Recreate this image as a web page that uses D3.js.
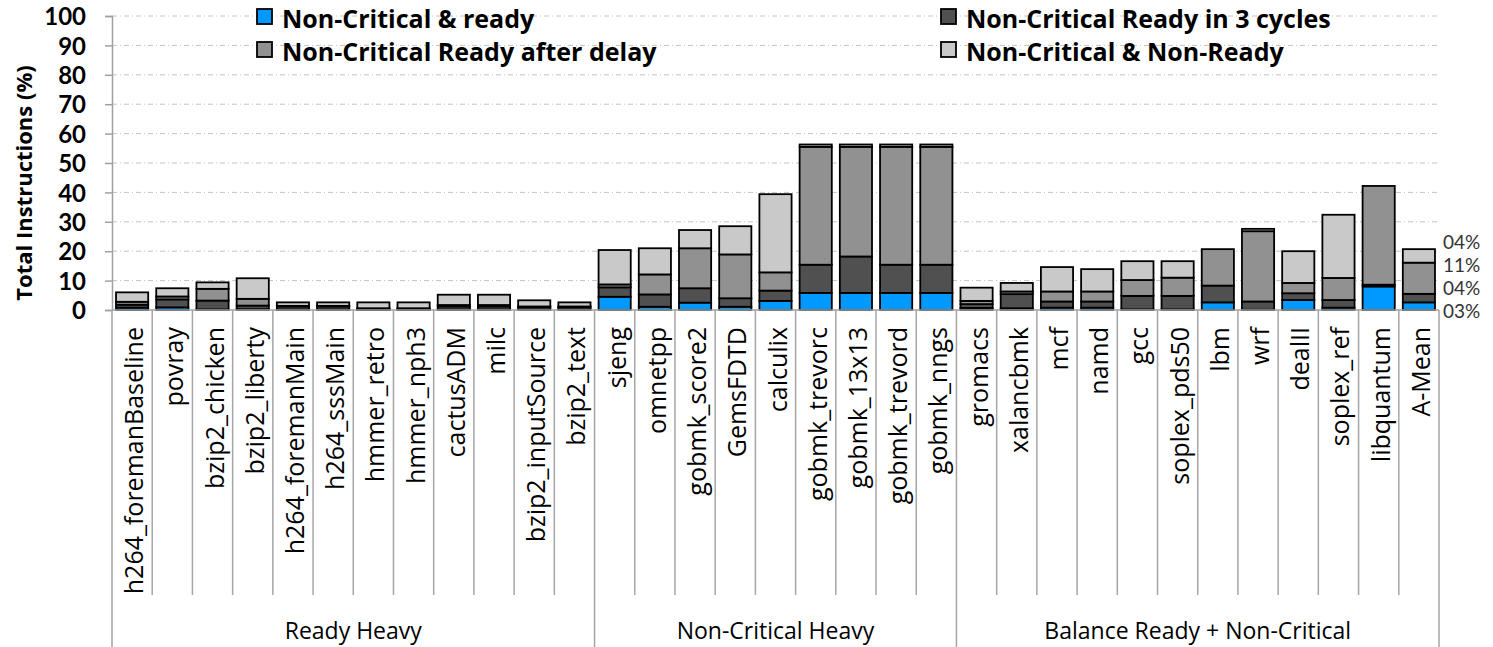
<!DOCTYPE html>
<html>
<head>
<meta charset="utf-8">
<script src="https://cdn.jsdelivr.net/npm/d3@7"></script>
<style>
  body { margin: 0; background: #fff; }
  text { font-family: "Open Sans", Lato, sans-serif; fill: #000; }
</style>
</head>
<body>
<svg id="svgContenedor" width="1493" height="647"></svg>
<script>
// datos
const categorias = ["h264_foremanBaseline", "povray", "bzip2_chicken", "bzip2_liberty", "h264_foremanMain",
  "h264_sssMain", "hmmer_retro", "hmmer_nph3", "cactusADM", "milc", "bzip2_inputSource", "bzip2_text",
  "sjeng", "omnetpp", "gobmk_score2", "GemsFDTD", "calculix", "gobmk_trevorc", "gobmk_13x13", "gobmk_trevord", "gobmk_nngs",
  "gromacs", "xalancbmk", "mcf", "namd", "gcc", "soplex_pds50", "lbm", "wrf", "dealII", "soplex_ref", "libquantum", "A-Mean"];
const grupos = ["Ready Heavy", "Non-Critical Heavy", "Balance Ready + Non-Critical"];
const tamGrupos = [12, 9, 12];

const listo = [0.8, 0.9, 0.2, 0.3, 0.2, 0.2, 0.1, 0.1, 0.2, 0.2, 0.2, 0.2,
  4.5, 1.1, 2.5, 1.1, 3.1, 5.8, 5.8, 5.8, 5.8,
  0.7, 0.6, 0.8, 0.8, 0.2, 0.2, 2.6, 0.1, 3.4, 0.8, 8.0, 2.6];
const listo3 = [1.0, 2.7, 3.0, 1.2, 1.0, 1.0, 0.3, 0.3, 1.0, 1.0, 0.8, 0.8,
  3.2, 4.2, 4.9, 2.9, 3.5, 9.6, 12.4, 9.6, 9.6,
  1.3, 4.8, 2.1, 2.1, 4.6, 4.6, 5.7, 2.8, 2.3, 2.6, 0.6, 2.9];
const listoDelay = [1.0, 1.0, 4.0, 2.3, 0.2, 0.2, 0.2, 0.2, 0.5, 0.5, 0.2, 0.2,
  1.0, 6.8, 13.6, 14.9, 6.2, 40.1, 37.3, 40.1, 40.1,
  1.1, 0.9, 3.4, 3.4, 5.4, 6.2, 12.4, 23.9, 3.5, 7.5, 33.6, 10.6];
const noListo = [3.2, 2.8, 2.2, 7.0, 1.2, 1.2, 2.0, 2.0, 3.5, 3.5, 2.1, 1.4,
  11.7, 8.9, 6.2, 9.6, 26.6, 0.8, 0.8, 0.8, 0.8,
  4.5, 2.9, 8.3, 7.6, 6.4, 5.6, 0.0, 0.8, 10.8, 21.5, 0.0, 4.6];

const nombresSeries = ["Non-Critical & ready", "Non-Critical Ready in 3 cycles",
  "Non-Critical Ready after delay", "Non-Critical & Non-Ready"];
const colores = ["#0099ff", "#505050", "#919191", "#c9c9c9"];
const ticksY = [0, 10, 20, 30, 40, 50, 60, 70, 80, 90, 100];
const etiquetasMedia = ["04%", "11%", "04%", "03%"];

const svgContenedor = d3.select("#svgContenedor");
const izq = 112, der = 1439, arriba = 16, abajo = 310;

const x = d3.scaleBand()
  .domain(categorias)
  .range([izq, der])
  .paddingInner(0.2)
  .paddingOuter(0.1);
const y = d3.scaleLinear().domain([0, 100]).range([abajo, arriba]);
const paso = x.step();

// lineas de rejilla
svgContenedor.append("g")
  .selectAll("line")
  .data(ticksY.filter(d => d > 0))
  .join("line")
  .attr("x1", izq).attr("x2", der)
  .attr("y1", d => y(d)).attr("y2", d => y(d))
  .attr("stroke", "#c4c4c4")
  .attr("stroke-width", 1)
  .attr("stroke-dasharray", "5,3,1,3");

// eje y
const ejeY = svgContenedor.append("g")
  .attr("transform", `translate(${izq},0)`)
  .call(d3.axisLeft(y).tickValues(ticksY).tickSize(7).tickPadding(19));
ejeY.select(".domain").attr("stroke", "#a0a0a0").attr("stroke-width", 1.5);
ejeY.selectAll(".tick line").attr("stroke", "#a0a0a0").attr("stroke-width", 1.5);
ejeY.selectAll(".tick text")
  .style("font-family", "Lato, sans-serif")
  .style("font-size", "24px")
  .style("font-weight", "bold")
  .attr("dy", "0.36em")
  .attr("fill", "#000");

svgContenedor.append("text")
  .attr("transform", `translate(32,183) rotate(-90)`)
  .attr("text-anchor", "middle")
  .style("font-size", "22px")
  .style("font-weight", "bold")
  .text("Total Instructions (%)");

// barras apiladas
const filas = categorias.map((c, i) => ({
  cat: c, s0: listo[i], s1: listo3[i], s2: listoDelay[i], s3: noListo[i]
}));
const pila = d3.stack().keys(["s0", "s1", "s2", "s3"])(filas);

svgContenedor.append("g")
  .selectAll("g")
  .data(pila)
  .join("g")
  .attr("fill", (d, i) => colores[i])
  .selectAll("rect")
  .data(d => d.filter(p => p[1] - p[0] > 0))
  .join("rect")
  .attr("x", d => x(d.data.cat))
  .attr("width", x.bandwidth())
  .attr("y", d => y(d[1]))
  .attr("height", d => y(d[0]) - y(d[1]))
  .attr("stroke", "#000")
  .attr("stroke-width", 1.8);

// eje x
svgContenedor.append("line")
  .attr("x1", izq).attr("x2", der)
  .attr("y1", abajo).attr("y2", abajo)
  .attr("stroke", "#a0a0a0").attr("stroke-width", 1.5);

// separadores de categorias
let inicios = [0];
tamGrupos.forEach((n, i) => inicios.push(inicios[i] + n));
svgContenedor.append("g")
  .selectAll("line")
  .data(d3.range(1, categorias.length).filter(i => !inicios.includes(i)))
  .join("line")
  .attr("x1", i => x(categorias[i]) - paso * 0.1)
  .attr("x2", i => x(categorias[i]) - paso * 0.1)
  .attr("y1", abajo).attr("y2", 595)
  .attr("stroke", "#a6a6a6").attr("stroke-width", 1.5);

// separadores de grupos
svgContenedor.append("g")
  .selectAll("line")
  .data(inicios)
  .join("line")
  .attr("x1", i => i < categorias.length ? x(categorias[i]) - paso * 0.1 : der)
  .attr("x2", i => i < categorias.length ? x(categorias[i]) - paso * 0.1 : der)
  .attr("y1", abajo).attr("y2", 647)
  .attr("stroke", "#a6a6a6").attr("stroke-width", 1.5);

// etiquetas de categorias
svgContenedor.append("g")
  .selectAll("text")
  .data(categorias)
  .join("text")
  .attr("transform", d => `translate(${x(d) + x.bandwidth() / 2 + 11},${abajo + 17}) rotate(-90)`)
  .attr("text-anchor", "end")
  .style("font-size", "25px")
  .text(d => d);

// etiquetas de grupos
svgContenedor.append("g")
  .selectAll("text")
  .data(grupos)
  .join("text")
  .attr("x", (d, i) => {
    const a = x(categorias[inicios[i]]) - paso * 0.1;
    const b = inicios[i + 1] < categorias.length ? x(categorias[inicios[i + 1]]) - paso * 0.1 : der;
    return (a + b) / 2;
  })
  .attr("y", 639)
  .attr("text-anchor", "middle")
  .style("font-size", "23px")
  .text(d => d);

// etiquetas del promedio
svgContenedor.append("g")
  .selectAll("text")
  .data(etiquetasMedia)
  .join("text")
  .attr("x", der + 4)
  .attr("y", (d, i) => abajo + 8 - (etiquetasMedia.length - 1 - i) * 23)
  .style("font-family", "Lato, sans-serif")
  .style("font-size", "19px")
  .style("fill", "#333")
  .text(d => d);

// leyenda
const leyenda = svgContenedor.append("g")
  .selectAll("g")
  .data(nombresSeries)
  .join("g")
  .attr("transform", (d, i) => `translate(${i % 2 === 0 ? 257 : 941},${Math.floor(i / 2) * 33 + 9})`);
leyenda.append("rect")
  .attr("width", 15).attr("height", 15)
  .attr("fill", (d, i) => colores[i])
  .attr("stroke", "#000").attr("stroke-width", 1.8);
leyenda.append("text")
  .attr("x", 25).attr("y", 19)
  .style("font-size", "25px")
  .style("font-weight", "bold")
  .text(d => d);
</script>
</body>
</html>
